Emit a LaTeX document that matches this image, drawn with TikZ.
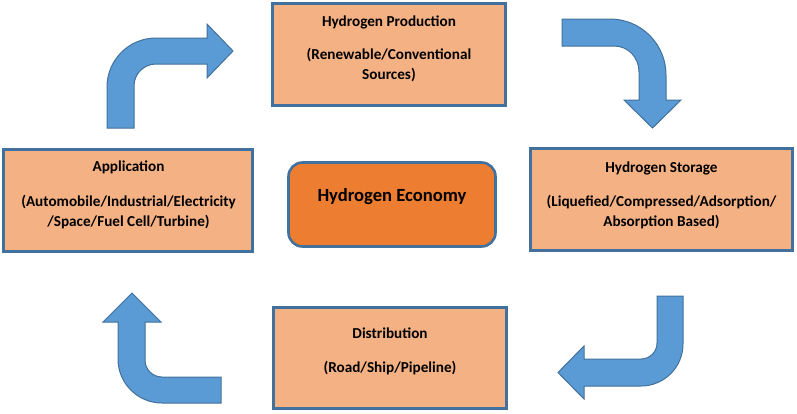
\documentclass[tikz,border=0pt]{standalone}
\usepackage{fontspec}
\setmainfont{Carlito}
\definecolor{boxfill}{HTML}{F4B183}
\definecolor{boxline}{HTML}{41719C}
\definecolor{ecofill}{HTML}{ED7D31}
\definecolor{arrfill}{HTML}{5B9BD5}
\definecolor{arrline}{HTML}{41719C}
\begin{document}
\begin{tikzpicture}[x=1bp,y=-1bp,
  box/.style={draw=boxline, line width=2.6bp, fill=boxfill, inner sep=0pt},
  txt/.style={align=center, font=\bfseries\fontsize{15.2bp}{20bp}\selectfont, inner sep=0pt},
  barrow/.style={fill=arrfill, draw=arrline, line width=1bp, line join=miter}]
\useasboundingbox (0,0) rectangle (797,413);
% boxes
\node[box, minimum width=233bp, minimum height=102bp] (prod) at (389,54.5) {};
\node[box, minimum width=249bp, minimum height=102bp] (app) at (128,200.5) {};
\node[box, minimum width=262bp, minimum height=102bp] (stor) at (661.5,199.5) {};
\node[box, minimum width=233bp, minimum height=101bp] (dist) at (390,358) {};
\node[box, fill=ecofill, rounded corners=14bp, minimum width=207bp, minimum height=84bp] (eco) at (392,204.5) {};
% texts
\node[txt] (prodt) at (389,48.5) {Hydrogen Production\\[13bp](Renewable/Conventional\\Sources)};
\node[txt] (appt) at (128.5,195) {Application\\[15bp](Automobile/Industrial/Electricity\\/Space/Fuel Cell/Turbine)};
\node[txt] (stort) at (661.5,195) {Hydrogen Storage\\[14bp](Liquefied/Compressed/Adsorption/\\Absorption Based)};
\node[txt] (distt) at (390,351.5) {Distribution\\[14bp](Road/Ship/Pipeline)};
\node[font=\bfseries\fontsize{18.6bp}{20bp}\selectfont, inner sep=0pt] (ecot) at (392,197) {Hydrogen Economy};
% block arrows
\draw[barrow] (107,128) -- (107,87) .. controls (107,59.94) and (128.94,38) .. (156,38) -- (207,38) -- (207,24) -- (233,51) -- (207,78) -- (207,64) -- (156,64) .. controls (143.85,64) and (134,73.85) .. (134,86) -- (134,128) -- cycle;
\draw[barrow] (562,19) -- (610,19) .. controls (641,19) and (666,44) .. (666,75) -- (666,100) -- (681,100) -- (652.5,128) -- (624,100) -- (639,100) -- (639,72) .. controls (639,57.6) and (628.4,46) .. (614,46) -- (562,46) -- cycle;
\draw[barrow] (683,296) -- (683,344) .. controls (683,367.2) and (664.2,386) .. (641,386) -- (584,386) -- (584,399) -- (558,372.5) -- (584,346) -- (584,359) -- (641,359) .. controls (649.8,359) and (657,351.8) .. (657,343) -- (657,296) -- cycle;
\draw[barrow] (221,403) -- (162,403) .. controls (137.7,403) and (118,383.3) .. (118,359) -- (118,322) -- (103,322) -- (132,293) -- (161,322) -- (145,322) -- (145,360) .. controls (145,369.4) and (152.6,377) .. (162,377) -- (221,377) -- cycle;
\end{tikzpicture}
\end{document}
